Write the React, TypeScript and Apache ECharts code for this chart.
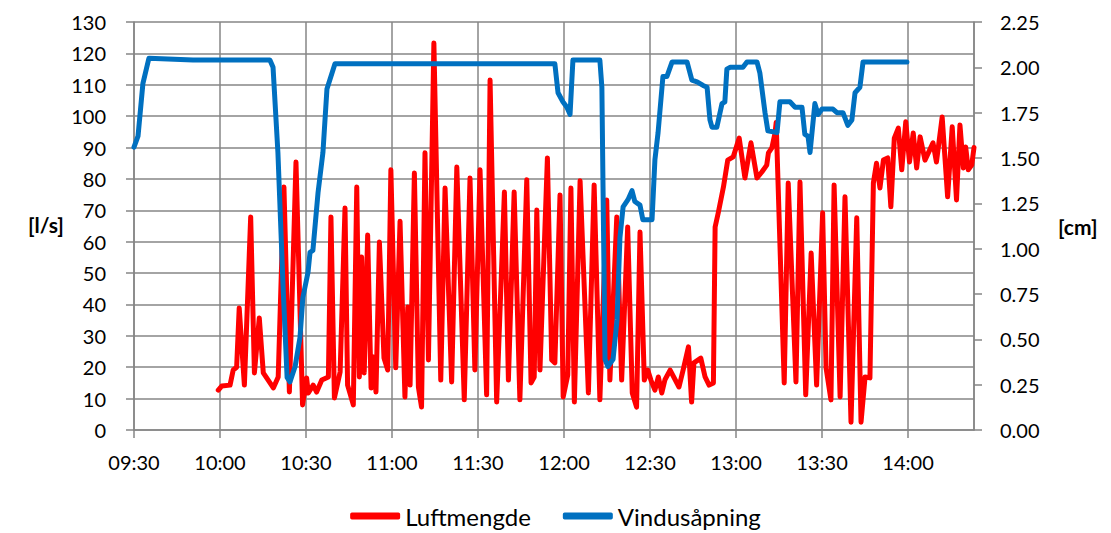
import React, { useEffect, useRef } from "react";
import * as echarts from "echarts";

// minutes since midnight
const luftTime = [
  599.4, 600.6, 603.5, 604.6, 605.8, 606.7, 608.5, 610.7, 612.0, 613.7, 615.1, 616.8, 618.6, 620.3,
  622.3, 624.2, 626.5, 628.8, 630.2, 630.8, 632.5, 633.7, 635.5, 637.8, 638.7, 639.9, 641.9, 643.6,
  644.5, 646.5, 647.7, 648.6, 649.4, 650.3, 651.5, 652.7, 653.5, 654.4, 655.6, 657.2, 658.5, 659.6,
  661.3, 662.8, 664.5, 665.5, 666.3, 667.8, 669.2, 670.3, 671.5, 672.7, 674.6, 677.0, 678.5, 680.8,
  682.6, 685.2, 687.2, 688.9, 690.7, 693.0, 694.2, 696.5, 699.2, 700.6, 702.6, 704.6, 707.0, 708.5,
  709.6, 710.5, 711.6, 714.2, 715.7, 716.8, 718.6, 719.7, 721.3, 722.4, 723.6, 725.6, 728.5, 730.5,
  732.5, 734.9, 736.0, 738.4, 740.1, 742.2, 743.8, 745.3, 746.5, 748.0, 749.2, 750.3, 751.7, 752.9,
  754.1, 755.2, 757.0, 760.1, 761.8, 763.4, 764.5, 765.3, 767.7, 769.2, 770.6, 772.1, 772.7, 773.8,
  775.6, 777.1, 779.0, 781.1, 783.1, 785.2, 787.3, 789.0, 790.7, 791.3, 792.5, 793.6, 794.0, 796.8,
  798.2, 800.9, 802.3, 804.3, 806.2, 808.1, 810.2, 811.4, 813.1, 814.2, 816.3, 818.0, 820.1, 822.1,
  823.6, 825.0, 826.7, 827.9, 829.0, 830.2, 831.4, 832.9, 834.0, 835.2, 836.6, 837.8, 839.2, 840.5,
  841.8, 843.0, 844.2, 845.9, 848.7, 849.9, 851.9, 853.8, 855.4, 856.9, 858.1, 859.3, 860.1, 861.0,
  862.2, 863.0,
];
const luftValue = [
  12.7, 14.0, 14.3, 19.1, 20, 38.9, 14.3, 67.9, 18.2, 35.7, 18.2, 15.9, 13.4, 16.9,
  77.4, 12.1, 85.4, 8, 16.6, 11.8, 14.3, 12.1, 15.9, 16.9, 67.9, 10.2, 18.5, 70.7,
  14.3, 8, 77.4, 16.9, 55.1, 18.2, 62.1, 13.4, 23.3, 12.1, 59.9, 22.9, 19.1, 82.9,
  19.8, 66.5, 10.5, 39.2, 14.3, 81.9, 13.7, 7.3, 88.3, 22.3, 123.3, 15.9, 77.1, 15.3,
  83.8, 9.6, 80.3, 19.1, 82.9, 11.2, 111.5, 8.9, 75.8, 15.9, 75.8, 9.6, 79.7, 15,
  16.9, 70.1, 19.1, 86.7, 22.3, 21.4, 74.9, 10.5, 17.5, 77.1, 8.9, 79.4, 11.8, 78.1,
  9.6, 73.3, 15.9, 67.9, 15.9, 64.7, 11.8, 7.3, 63.1, 15.9, 19.1, 15.9, 12.7, 16.9,
  11.8, 16, 19.1, 13.7, 20.1, 26.5, 8.9, 21.4, 22.9, 16.9, 14.3, 15, 64.7, 69.2,
  77.4, 86, 87, 93, 80.3, 91.5, 80.3, 82.2, 84.4, 88.3, 89.9, 94.6, 98, 15,
  78.7, 15.3, 79, 11.2, 56.4, 14.3, 69.2, 19.8, 9.6, 78.1, 10.5, 74.3, 2.5, 67.6,
  2.5, 16.9, 16.6, 78.7, 85, 77.1, 86, 86.7, 71.1, 93, 96.2, 82.9, 98.2, 85.4,
  94.6, 83.5, 93.4, 86, 91.5, 85.4, 99.7, 74.3, 96.6, 73.3, 97.2, 83.5, 90.2, 82.9,
  84.4, 90,
];

const vinduTime = [
  570, 571.4, 573.1, 575.2, 590.6, 617.4, 618.5, 620.2, 622.0, 623.4, 624.4, 626.2, 627.9, 628.9,
  630.7, 631.4, 632.4, 634.2, 635.9, 637.3, 640.1, 716.8, 717.9, 719.6, 721.0, 722.1, 723.1, 732.5,
  733.2, 733.6, 734.3, 735.3, 737.1, 738.5, 739.5, 740.6, 742.3, 743.7, 744.7, 746.5, 747.5, 750.7,
  751.7, 752.8, 754.5, 755.9, 757.7, 762.9, 764.6, 766.4, 768.5, 769.9, 770.9, 771.6, 773.3, 775.1,
  776.1, 776.8, 777.9, 782.4, 783.8, 787.3, 788.3, 790.1, 791.1, 794.3, 795.3, 798.8, 800.6, 803.0,
  804.0, 805.1, 805.8, 807.5, 808.6, 810.0, 813.8, 815.2, 817.3, 819.0, 820.4, 821.5, 823.2, 824.3,
  839.6,
];
const vinduValue = [
  1.56, 1.62, 1.91, 2.05, 2.04, 2.04, 2.0, 1.53, 0.79, 0.29, 0.265, 0.35, 0.51, 0.73,
  0.87, 0.98, 0.99, 1.31, 1.53, 1.88, 2.02, 2.02, 1.86, 1.81, 1.78, 1.74, 2.04, 2.04,
  1.89, 1.34, 0.39, 0.35, 0.39, 0.61, 1.06, 1.23, 1.27, 1.32, 1.26, 1.24, 1.16, 1.16,
  1.49, 1.64, 1.95, 1.95, 2.03, 2.03, 1.93, 1.92, 1.9, 1.89, 1.71, 1.67, 1.67, 1.8,
  1.81, 1.99, 2.0, 2.0, 2.03, 2.03, 1.97, 1.75, 1.65, 1.64, 1.81, 1.81, 1.78, 1.78,
  1.63, 1.62, 1.53, 1.8, 1.74, 1.77, 1.77, 1.75, 1.75, 1.68, 1.71, 1.86, 1.89, 2.03,
  2.03,
];

const seriesNames = ["Luftmengde", "Vindusåpning"];
const axisNames = ["[l/s]", "[cm]"];

const GRAY = "#868686";
const FONT = "Lato";

function fmtTime(v: number): string {
  const h = Math.floor(v / 60);
  const m = Math.round(v - h * 60);
  return String(h).padStart(2, "0") + ":" + String(m).padStart(2, "0");
}

export default function App() {
  const ref = useRef<HTMLDivElement>(null);
  useEffect(() => {
    document.body.style.margin = "0";
    if (!ref.current) return;
    const chart = echarts.init(ref.current, undefined, { renderer: "svg" });
    const luftData = luftTime.map((t, i) => [t, luftValue[i]]);
    const vinduData = vinduTime.map((t, i) => [t, vinduValue[i]]);
    chart.setOption({
      animation: false,
      backgroundColor: "#fff",
      textStyle: { fontFamily: FONT },
      grid: { left: 134, right: 137, top: 22, bottom: 103 },
      legend: {
        data: seriesNames,
        bottom: 0,
        left: "center",
        icon: "roundRect",
        itemWidth: 50,
        itemHeight: 7,
        itemGap: 32,
        textStyle: { fontSize: 24, color: "#000", fontFamily: FONT },
      },
      xAxis: {
        type: "value",
        min: 570,
        max: 863,
        interval: 30,
        axisLine: { show: true, lineStyle: { color: GRAY, width: 1.5 } },
        axisTick: { show: true, length: 8, lineStyle: { color: GRAY, width: 1.5 } },
        splitLine: { show: true, lineStyle: { color: GRAY, width: 1.5 } },
        axisLabel: {
          color: "#000",
          fontSize: 20,
          fontFamily: FONT,
          margin: 22,
          showMaxLabel: false,
          formatter: (v: number) => (Math.round(v) % 30 === 0 ? fmtTime(v) : ""),
        },
      },
      yAxis: [
        {
          type: "value",
          min: 0,
          max: 130,
          interval: 10,
          axisLine: { show: true, lineStyle: { color: GRAY, width: 1.5 } },
          axisTick: { show: true, length: 8, lineStyle: { color: GRAY, width: 1.5 } },
          splitLine: { show: true, lineStyle: { color: GRAY, width: 1.5 } },
          axisLabel: { color: "#000", fontSize: 20, fontFamily: FONT, margin: 28 },
        },
        {
          type: "value",
          position: "right",
          min: 0,
          max: 2.25,
          interval: 0.25,
          axisLine: { show: true, lineStyle: { color: GRAY, width: 1.5 } },
          axisTick: { show: true, length: 8, lineStyle: { color: GRAY, width: 1.5 } },
          splitLine: { show: false },
          axisLabel: {
            color: "#000",
            fontSize: 20,
            fontFamily: FONT,
            margin: 26,
            formatter: (v: number) => v.toFixed(2),
          },
        },
      ],
      graphic: [
        {
          type: "text",
          left: 28,
          top: 214,
          style: { text: axisNames[0], fontSize: 21, fontWeight: "bold", fill: "#000", fontFamily: FONT },
        },
        {
          type: "text",
          left: 1058,
          top: 216,
          style: { text: axisNames[1], fontSize: 21, fontWeight: "bold", fill: "#000", fontFamily: FONT },
        },
      ],
      series: [
        {
          name: seriesNames[0],
          type: "line",
          yAxisIndex: 0,
          data: luftData,
          showSymbol: false,
          symbol: "none",
          itemStyle: { color: "#FF0000" },
          lineStyle: { color: "#FF0000", width: 5, join: "round", cap: "round" },
        },
        {
          name: seriesNames[1],
          type: "line",
          yAxisIndex: 1,
          data: vinduData,
          showSymbol: false,
          symbol: "none",
          itemStyle: { color: "#0070C0" },
          lineStyle: { color: "#0070C0", width: 5, join: "round", cap: "round" },
        },
      ],
    });
    return () => chart.dispose();
  }, []);
  return <div ref={ref} style={{ width: 1111, height: 533 }} />;
}
